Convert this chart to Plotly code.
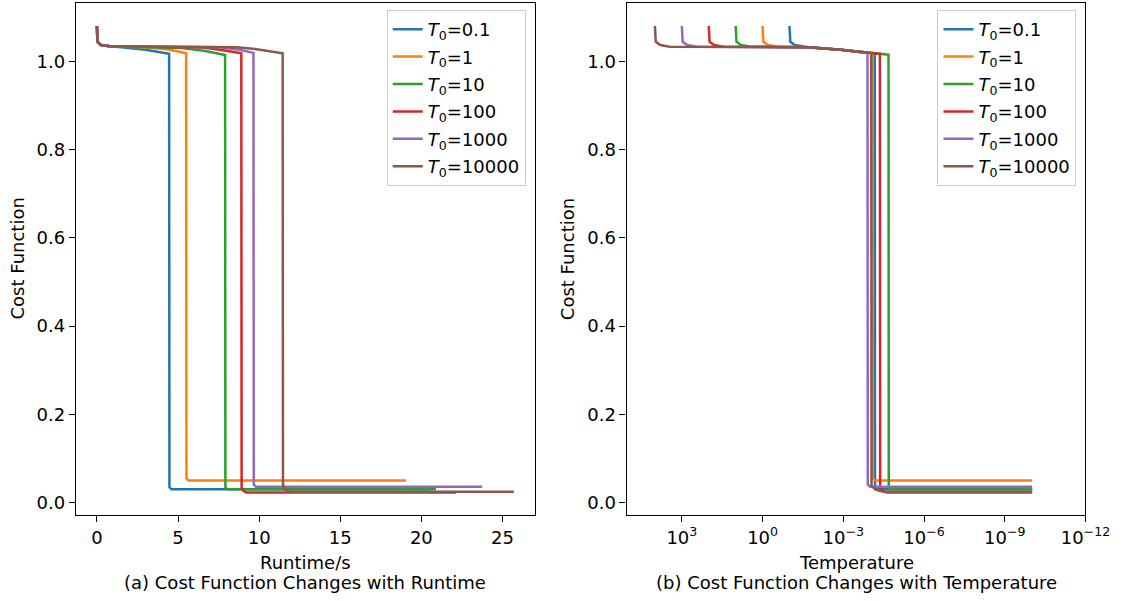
import numpy as np
import plotly.graph_objects as go

# ---- data ---------------------------------------------------------------
t0_labels = ["0.1", "1", "10", "100", "1000", "10000"]
colors = ["#1f77b4", "#ff7f0e", "#2ca02c", "#d62728", "#9467bd", "#8c564b"]

# (a) cost function against runtime (seconds)
runtime_t0_01 = [0, 0.03, 0.25, 0.8, 1.5, 3.0, 4.45, 4.47, 4.6, 20.5]
cost_rt_t0_01 = [1.081, 1.045, 1.038, 1.035, 1.033, 1.027, 1.018, 0.034, 0.0295, 0.0295]

runtime_t0_1 = [0, 0.03, 0.25, 0.8, 3.2, 4.5, 5.5, 5.52, 5.65, 19.05]
cost_rt_t0_1 = [1.081, 1.045, 1.038, 1.035, 1.032, 1.027, 1.019, 0.054, 0.0495, 0.0495]

runtime_t0_10 = [0, 0.03, 0.25, 0.8, 5.2, 6.6, 7.9, 7.92, 8.05, 20.9]
cost_rt_t0_10 = [1.081, 1.045, 1.038, 1.035, 1.031, 1.025, 1.015, 0.034, 0.0295, 0.0295]

runtime_t0_100 = [0, 0.03, 0.25, 0.8, 6.5, 7.8, 8.9, 8.92, 9.0, 9.2, 22.15]
cost_rt_t0_100 = [1.081, 1.045, 1.038, 1.035, 1.032, 1.026, 1.019, 0.033, 0.027, 0.022, 0.022]

runtime_t0_1000 = [0, 0.03, 0.25, 0.8, 7.6, 8.8, 9.65, 9.67, 9.8, 23.75]
cost_rt_t0_1000 = [1.081, 1.045, 1.038, 1.035, 1.033, 1.027, 1.020, 0.040, 0.0354, 0.0354]

runtime_t0_10000 = [0, 0.03, 0.25, 0.8, 8.6, 9.75, 11.45, 11.47, 11.6, 11.9, 25.7]
cost_rt_t0_10000 = [1.081, 1.045, 1.038, 1.035, 1.033, 1.029, 1.019, 0.039, 0.029, 0.024, 0.024]

# (b) cost function against temperature, given as log10(T)
logtemp_t0_01 = [-1.0, -1.03, -1.2, -1.55, -1.7, -2.9, -4.17, -4.18, -4.3, -10.02]
cost_tp_t0_01 = [1.081, 1.045, 1.038, 1.034, 1.033, 1.027, 1.019, 0.034, 0.0295, 0.0295]

logtemp_t0_1 = [0.0, -0.03, -0.2, -0.55, -1.7, -2.9, -4.09, -4.10, -4.2, -10.02]
cost_tp_t0_1 = [1.081, 1.045, 1.038, 1.034, 1.033, 1.027, 1.019, 0.054, 0.0495, 0.0495]

logtemp_t0_10 = [1.0, 0.97, 0.8, 0.45, -1.7, -2.9, -4.68, -4.69, -4.8, -10.02]
cost_tp_t0_10 = [1.081, 1.045, 1.038, 1.034, 1.033, 1.027, 1.016, 0.034, 0.0295, 0.0295]

logtemp_t0_100 = [2.0, 1.97, 1.8, 1.45, -1.7, -2.9, -4.36, -4.37, -4.45, -4.6, -10.02]
cost_tp_t0_100 = [1.081, 1.045, 1.038, 1.034, 1.033, 1.027, 1.018, 0.033, 0.027, 0.022, 0.022]

logtemp_t0_1000 = [3.0, 2.97, 2.8, 2.45, -1.7, -2.9, -3.90, -3.91, -4.0, -10.02]
cost_tp_t0_1000 = [1.081, 1.045, 1.038, 1.034, 1.033, 1.027, 1.020, 0.040, 0.0354, 0.0354]

logtemp_t0_10000 = [4.0, 3.97, 3.8, 3.45, -1.7, -2.9, -4.04, -4.05, -4.2, -4.5, -10.02]
cost_tp_t0_10000 = [1.081, 1.045, 1.038, 1.034, 1.033, 1.027, 1.019, 0.037, 0.029, 0.024, 0.024]

runtime_series = [
    (runtime_t0_01, cost_rt_t0_01),
    (runtime_t0_1, cost_rt_t0_1),
    (runtime_t0_10, cost_rt_t0_10),
    (runtime_t0_100, cost_rt_t0_100),
    (runtime_t0_1000, cost_rt_t0_1000),
    (runtime_t0_10000, cost_rt_t0_10000),
]
temp_series = [
    (logtemp_t0_01, cost_tp_t0_01),
    (logtemp_t0_1, cost_tp_t0_1),
    (logtemp_t0_10, cost_tp_t0_10),
    (logtemp_t0_100, cost_tp_t0_100),
    (logtemp_t0_1000, cost_tp_t0_1000),
    (logtemp_t0_10000, cost_tp_t0_10000),
]

runtime_ticks = [0, 5, 10, 15, 20, 25]
cost_ticks = [0.0, 0.2, 0.4, 0.6, 0.8, 1.0]
temp_tick_exps = [3, 0, -3, -6, -9, -12]
temp_tick_text = ["10<sup>%s</sup>" % str(e).replace("-", "\u2212") for e in temp_tick_exps]

# ---- layout geometry (pixels in a 1144 x 601 page) ----------------------
W, H = 1144, 601
FONT = "DejaVu Sans"
FS = 18


def fx(px):
    return px / W


def fy(py):
    return (H - py) / H


ax_top, ax_bottom = 2.7, 515.0
left_x0, left_x1 = 77.7, 546.7
right_x0, right_x1 = 640.7, 1109.7

fig = go.Figure()

for i, (xs, ys) in enumerate(runtime_series):
    fig.add_trace(go.Scatter(
        x=xs, y=ys, mode="lines", xaxis="x", yaxis="y",
        line=dict(color=colors[i], width=2.5),
        name="<i>T</i><sub>0</sub>=" + t0_labels[i],
        legend="legend", legendgroup="a%d" % i,
    ))

for i, (xs, ys) in enumerate(temp_series):
    fig.add_trace(go.Scatter(
        x=10.0 ** np.array(xs), y=ys, mode="lines", xaxis="x2", yaxis="y2",
        line=dict(color=colors[i], width=2.5),
        name="<i>T</i><sub>0</sub>=" + t0_labels[i],
        legend="legend2", legendgroup="b%d" % i,
    ))

axis_common = dict(
    showline=True, linecolor="black", linewidth=1.4, mirror=True,
    ticks="outside", ticklen=6, tickwidth=1.4, tickcolor="black",
    showgrid=False, zeroline=False,
    tickfont=dict(family=FONT, size=FS, color="black"),
)

legend_common = dict(
    xanchor="right", yanchor="top",
    bgcolor="white", bordercolor="#cccccc", borderwidth=1,
    font=dict(family=FONT, size=FS, color="black"),
    tracegroupgap=1,
)

fig.update_layout(
    width=W, height=H, autosize=False,
    margin=dict(l=0, r=0, t=0, b=0),
    paper_bgcolor="white", plot_bgcolor="white",
    font=dict(family=FONT, color="black"),
    xaxis=dict(domain=[fx(left_x0), fx(left_x1)], range=[-1.29, 26.99],
               tickvals=runtime_ticks, anchor="y", **axis_common),
    yaxis=dict(domain=[fy(ax_bottom), fy(ax_top)], range=[-0.0288, 1.1339],
               tickvals=cost_ticks, tickformat=".1f", anchor="x", **axis_common),
    xaxis2=dict(domain=[fx(right_x0), fx(right_x1)], type="log", range=[5.05, -12.0],
                tickvals=[10.0 ** e for e in temp_tick_exps], ticktext=temp_tick_text,
                anchor="y2", **axis_common),
    yaxis2=dict(domain=[fy(ax_bottom), fy(ax_top)], range=[-0.0288, 1.1339],
                tickvals=cost_ticks, tickformat=".1f", anchor="x2", **axis_common),
    legend=dict(x=fx(537.5), y=fy(10.0), **legend_common),
    legend2=dict(x=fx(1100.5), y=fy(10.0), **legend_common),
    showlegend=True,
)

label_font = dict(family=FONT, size=FS, color="black")
annotations = [
    dict(text="Runtime/s", x=fx((left_x0 + left_x1) / 2), y=fy(562)),
    dict(text="(a) Cost Function Changes with Runtime", x=fx((left_x0 + left_x1) / 2), y=fy(582)),
    dict(text="Temperature", x=fx((right_x0 + right_x1) / 2), y=fy(562)),
    dict(text="(b) Cost Function Changes with Temperature", x=fx((right_x0 + right_x1) / 2), y=fy(582)),
    dict(text="Cost Function", x=fx(18), y=fy((ax_top + ax_bottom) / 2), textangle=-90),
    dict(text="Cost Function", x=fx(581), y=fy((ax_top + ax_bottom) / 2), textangle=-90),
]
for a in annotations:
    fig.add_annotation(xref="paper", yref="paper", showarrow=False,
                       xanchor="center", yanchor="middle", font=label_font, **a)

fig.write_html("out.html", config={"responsive": False})
